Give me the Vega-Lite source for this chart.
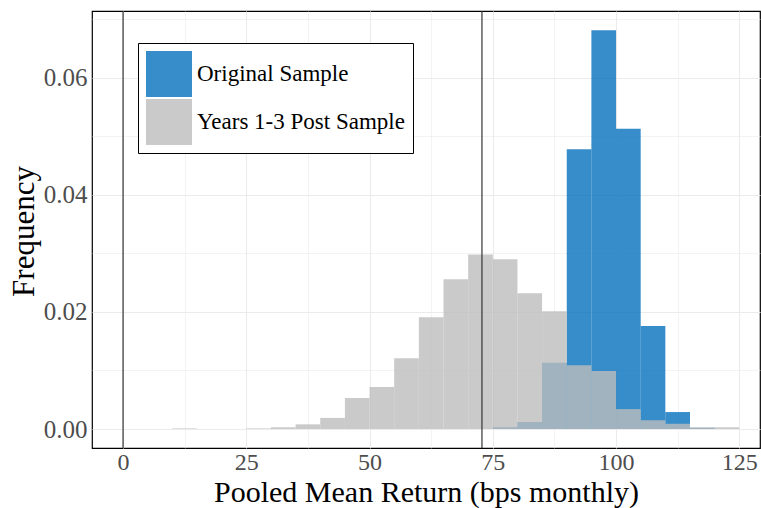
{
  "$schema": "https://vega.github.io/schema/vega-lite/v6.json",
  "width": 668,
  "height": 437,
  "autosize": {"type": "none"},
  "padding": {"left": 92, "top": 11, "right": 1, "bottom": 60},
  "background": "white",
  "config": {"view": {"stroke": "black", "strokeWidth": 1.2}, "font": "Liberation Serif"},
  "datasets": {
    "bars": [
      {"series": "Original Sample", "bin_start": 75, "bin_end": 80, "freq": 0.0003},
      {"series": "Original Sample", "bin_start": 80, "bin_end": 85, "freq": 0.0012},
      {"series": "Original Sample", "bin_start": 85, "bin_end": 90, "freq": 0.0113},
      {"series": "Original Sample", "bin_start": 90, "bin_end": 95, "freq": 0.0478},
      {"series": "Original Sample", "bin_start": 95, "bin_end": 100, "freq": 0.0681},
      {"series": "Original Sample", "bin_start": 100, "bin_end": 105, "freq": 0.0513},
      {"series": "Original Sample", "bin_start": 105, "bin_end": 110, "freq": 0.0176},
      {"series": "Original Sample", "bin_start": 110, "bin_end": 115, "freq": 0.0029},
      {"series": "Original Sample", "bin_start": 115, "bin_end": 120, "freq": 0.0002},
      {"series": "Years 1-3 Post Sample", "bin_start": 10, "bin_end": 15, "freq": 0.0001},
      {"series": "Years 1-3 Post Sample", "bin_start": 25, "bin_end": 30, "freq": 0.0001},
      {"series": "Years 1-3 Post Sample", "bin_start": 30, "bin_end": 35, "freq": 0.0003},
      {"series": "Years 1-3 Post Sample", "bin_start": 35, "bin_end": 40, "freq": 0.0008},
      {"series": "Years 1-3 Post Sample", "bin_start": 40, "bin_end": 45, "freq": 0.0019},
      {"series": "Years 1-3 Post Sample", "bin_start": 45, "bin_end": 50, "freq": 0.0053},
      {"series": "Years 1-3 Post Sample", "bin_start": 50, "bin_end": 55, "freq": 0.0072},
      {"series": "Years 1-3 Post Sample", "bin_start": 55, "bin_end": 60, "freq": 0.0121},
      {"series": "Years 1-3 Post Sample", "bin_start": 60, "bin_end": 65, "freq": 0.0191},
      {"series": "Years 1-3 Post Sample", "bin_start": 65, "bin_end": 70, "freq": 0.0256},
      {"series": "Years 1-3 Post Sample", "bin_start": 70, "bin_end": 75, "freq": 0.0298},
      {"series": "Years 1-3 Post Sample", "bin_start": 75, "bin_end": 80, "freq": 0.0290},
      {"series": "Years 1-3 Post Sample", "bin_start": 80, "bin_end": 85, "freq": 0.0232},
      {"series": "Years 1-3 Post Sample", "bin_start": 85, "bin_end": 90, "freq": 0.0201},
      {"series": "Years 1-3 Post Sample", "bin_start": 90, "bin_end": 95, "freq": 0.0109},
      {"series": "Years 1-3 Post Sample", "bin_start": 95, "bin_end": 100, "freq": 0.0099},
      {"series": "Years 1-3 Post Sample", "bin_start": 100, "bin_end": 105, "freq": 0.0034},
      {"series": "Years 1-3 Post Sample", "bin_start": 105, "bin_end": 110, "freq": 0.0015},
      {"series": "Years 1-3 Post Sample", "bin_start": 110, "bin_end": 115, "freq": 0.0009},
      {"series": "Years 1-3 Post Sample", "bin_start": 115, "bin_end": 120, "freq": 0.0003},
      {"series": "Years 1-3 Post Sample", "bin_start": 120, "bin_end": 125, "freq": 0.0003}
    ],
    "vlines": [{"x": 0}, {"x": 72.8}]
  },
  "layer": [
    {
      "data": {"name": "bars"},
      "mark": {"type": "bar", "opacity": 0.8},
      "encoding": {
        "x": {
          "field": "bin_start", "type": "quantitative",
          "scale": {"domain": [-6.3, 129.2], "nice": false, "zero": false},
          "axis": {
            "title": "Pooled Mean Return (bps monthly)",
            "values": [0, 12.5, 25, 37.5, 50, 62.5, 75, 87.5, 100, 112.5, 125],
            "labelExpr": "datum.value % 25 === 0 ? datum.label : ''",
            "ticks": false, "domain": false, "grid": true,
            "gridColor": "#ebebeb",
            "gridWidth": {"condition": {"test": "datum.value % 25 !== 0", "value": 0.6}, "value": 1.1},
            "labelFontSize": 24, "labelColor": "#4d4d4d", "labelPadding": 2,
            "labelOverlap": false, "labelFlush": false, "labelBound": false,
            "labelFont": "Liberation Serif", "titleFont": "Liberation Serif",
            "titleFontSize": 30, "titleColor": "black", "titleFontWeight": "normal",
            "titleBaseline": "alphabetic", "titleY": 53
          }
        },
        "x2": {"field": "bin_end"},
        "y": {
          "field": "freq", "type": "quantitative", "stack": null,
          "scale": {"domain": [-0.00324, 0.0714], "nice": false, "zero": false},
          "axis": {
            "title": "Frequency",
            "values": [0, 0.01, 0.02, 0.03, 0.04, 0.05, 0.06, 0.07],
            "labelExpr": "round(datum.value*100) % 2 === 0 ? format(datum.value, '.2f') : ''",
            "ticks": false, "domain": false, "grid": true,
            "gridColor": "#ebebeb",
            "gridWidth": {"condition": {"test": "round(datum.value*100) % 2 !== 0", "value": 0.6}, "value": 1.1},
            "labelFontSize": 25, "labelColor": "#4d4d4d", "labelPadding": 5,
            "labelOverlap": false, "labelFlush": false, "labelBound": false,
            "labelFont": "Liberation Serif", "titleFont": "Liberation Serif",
            "titleFontSize": 31, "titleColor": "black", "titleFontWeight": "normal",
            "titleBaseline": "alphabetic", "titleX": -59, "titleY": 220, "titleAngle": -90, "titleAlign": "center"
          }
        },
        "y2": {"datum": 0},
        "color": {
          "field": "series", "type": "nominal",
          "scale": {"domain": ["Original Sample", "Years 1-3 Post Sample"], "range": ["#0471bb", "#bdbdbd"]},
          "legend": {
            "title": null, "orient": "none", "legendX": 46, "legendY": 32,
            "symbolType": "square", "symbolSize": 2116, "symbolOpacity": 0.8, "symbolStrokeWidth": 0,
            "labelFontSize": 23, "labelColor": "black", "labelFont": "Liberation Serif", "labelOffset": 5,
            "labelLimit": 500,
            "rowPadding": 2, "strokeColor": "black", "fillColor": "white", "padding": 8
          }
        }
      }
    },
    {
      "data": {"name": "vlines"},
      "mark": {"type": "rule", "color": "#333333", "strokeWidth": 1.2},
      "encoding": {"x": {"field": "x", "type": "quantitative"}}
    }
  ]
}
